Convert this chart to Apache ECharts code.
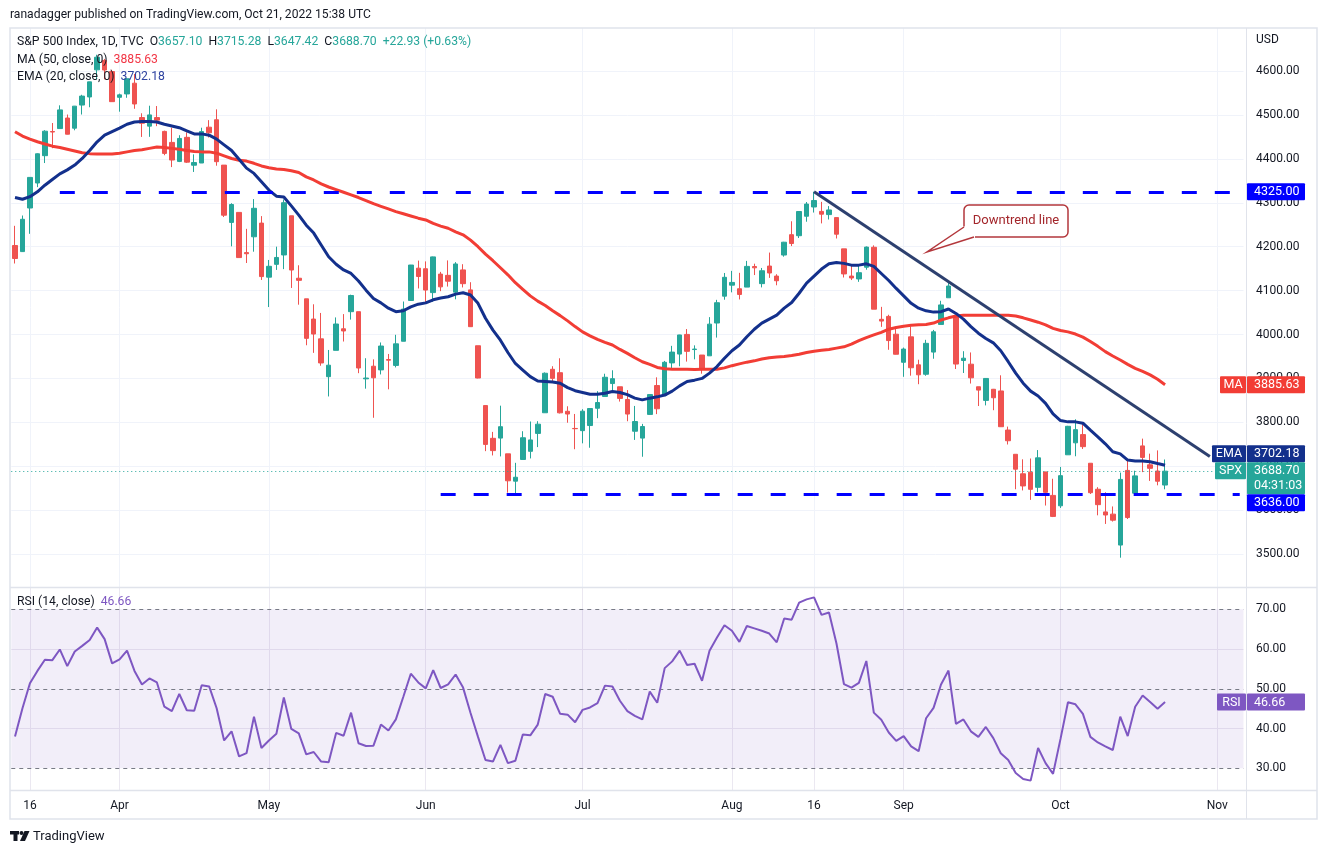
<!DOCTYPE html>
<html><head><meta charset="utf-8">
<script src="https://cdn.jsdelivr.net/npm/echarts@6/dist/echarts.min.js"></script>
<style>html,body{margin:0;padding:0;background:#fff}#c{width:1324px;height:855px}</style>
</head><body><div id="c"></div>
<script>
// ---------- DATA ----------
const monthDays = [
 ['2022-03', [14,15,16,17,18,21,22,23,24,25,28,29,30,31]],
 ['2022-04', [1,4,5,6,7,8,11,12,13,14,18,19,20,21,22,25,26,27,28,29]],
 ['2022-05', [2,3,4,5,6,9,10,11,12,13,16,17,18,19,20,23,24,25,26,27,31]],
 ['2022-06', [1,2,3,6,7,8,9,10,13,14,15,16,17,21,22,23,24,27,28,29,30]],
 ['2022-07', [1,5,6,7,8,11,12,13,14,15,18,19,20,21,22,25,26,27,28,29]],
 ['2022-08', [1,2,3,4,5,8,9,10,11,12,15,16,17,18,19,22,23,24,25,26,29,30,31]],
 ['2022-09', [1,2,6,7,8,9,12,13,14,15,16,19,20,21,22,23,26,27,28,29,30]],
 ['2022-10', [3,4,5,6,7,10,11,12,13,14,17,18,19,20,21,24,25,26,27,28,31]],
 ['2022-11', [1,2,3,4]]
];
const dates = [];
monthDays.forEach(([m, ds]) => ds.forEach(d => dates.push(m + '-' + String(d).padStart(2, '0'))));

const opens = [4202.75,4188.82,4288.14,4345.11,4407.34,4462.40,4469.10,4493.10,4469.98,4522.66,4541.09,4602.86,4624.20,4599.02,
4540.32,4547.97,4572.45,4494.17,4474.65,4494.15,4462.64,4437.59,4394.30,4449.12,4385.63,4390.63,4472.26,4489.17,4385.83,4255.34,4278.14,4186.52,4222.58,4253.75,
4130.61,4159.78,4181.18,4270.43,4128.17,4081.27,4035.18,3990.08,3903.95,3963.90,4013.02,4052.00,4051.98,3899.00,3927.76,3919.42,3942.94,3929.59,3984.60,4077.43,4151.09,
4149.78,4095.41,4137.57,4134.72,4096.47,4147.12,4101.65,3974.39,3838.15,3763.52,3764.05,3728.18,3665.90,3715.31,3733.89,3774.71,3821.75,3920.76,3913.00,3825.09,3785.99,
3781.00,3792.61,3831.98,3858.85,3888.26,3880.94,3851.95,3779.67,3763.99,3818.00,3883.79,3860.73,3935.32,3955.47,4000.20,3965.72,3953.22,3951.43,4026.13,4087.33,
4112.38,4104.21,4107.96,4154.85,4115.87,4155.93,4133.11,4181.02,4227.40,4225.02,4269.37,4290.46,4280.40,4273.13,4266.31,4195.08,4133.09,4126.55,4153.26,4198.74,4034.58,4041.25,4000.67,
3936.73,3994.66,3930.89,3909.43,3959.94,4022.94,4083.67,4042.00,3940.73,3932.41,3880.95,3849.91,3875.23,3871.40,3782.36,3727.14,3682.72,3686.44,3651.94,3687.01,3633.48,
3609.78,3726.00,3753.25,3771.97,3706.74,3647.51,3595.86,3590.83,3520.37,3690.41,3638.65,3746.26,3703.11,3689.05,3657.10];
const highs = [4247.57,4271.05,4357.86,4412.67,4465.40,4481.75,4522.00,4501.07,4520.58,4546.03,4575.65,4637.30,4627.77,4603.07,
4548.70,4583.50,4593.45,4503.94,4521.16,4520.41,4464.35,4471.00,4453.92,4460.46,4410.31,4471.03,4488.29,4512.94,4385.83,4299.02,4278.14,4240.71,4308.45,4269.68,
4169.81,4200.10,4307.66,4270.43,4157.69,4081.27,4068.82,4049.09,3964.80,4038.88,4046.46,4090.72,4051.98,3945.96,3943.42,3981.88,3955.68,3999.33,4075.14,4158.49,4168.34,
4166.54,4177.51,4142.67,4168.78,4164.86,4160.14,4119.10,3974.39,3838.15,3778.18,3837.86,3728.18,3707.71,3779.65,3801.79,3802.58,3913.65,3927.72,3945.86,3836.50,3818.99,
3829.82,3832.19,3870.91,3910.63,3918.50,3880.94,3873.41,3837.25,3796.41,3863.62,3902.44,3939.81,3974.13,3999.29,4012.44,3975.30,3953.22,4039.56,4078.95,4140.15,
4144.95,4140.47,4167.66,4161.29,4151.58,4186.62,4137.30,4211.03,4257.91,4280.47,4301.79,4325.28,4302.18,4292.53,4266.31,4195.08,4159.77,4156.56,4200.54,4203.04,4062.99,4044.98,4015.37,
3970.23,4018.43,3942.55,3987.89,4010.50,4076.81,4119.28,4042.00,3961.94,3959.14,3880.95,3900.45,3876.01,3907.07,3790.20,3727.14,3715.67,3717.53,3736.74,3687.01,3671.44,
3698.35,3791.92,3806.91,3797.93,3706.74,3652.17,3640.66,3608.34,3685.41,3712.00,3689.73,3762.79,3728.58,3736.00,3715.28];
const lows = [4161.72,4187.90,4229.34,4335.65,4390.57,4424.30,4469.10,4455.81,4465.17,4501.07,4517.69,4581.18,4581.32,4530.41,
4507.57,4539.21,4514.17,4450.04,4450.30,4474.60,4408.38,4381.34,4392.70,4390.77,4370.30,4390.63,4448.76,4384.47,4267.62,4200.82,4175.04,4162.90,4188.63,4124.28,
4062.51,4147.08,4148.91,4106.01,4067.91,3975.48,3958.17,3928.82,3858.87,3963.90,3983.99,4033.93,3911.91,3876.58,3810.32,3909.04,3875.13,3925.03,3984.60,4077.43,4104.88,
4073.85,4074.37,4098.67,4109.18,4080.19,4107.20,4017.17,3900.16,3734.30,3724.49,3722.30,3639.77,3636.87,3715.31,3717.69,3743.52,3821.75,3889.66,3820.14,3799.02,3738.67,
3752.10,3742.06,3809.37,3858.85,3869.34,3847.22,3802.36,3759.89,3721.56,3817.18,3818.63,3860.73,3922.03,3927.64,3938.27,3943.46,3910.74,3951.43,3992.97,4079.22,
4096.02,4079.81,4107.96,4135.42,4107.31,4128.97,4112.09,4177.26,4201.41,4219.78,4256.90,4277.77,4253.08,4261.98,4218.70,4129.86,4124.03,4119.97,4147.59,4057.66,4017.42,3965.21,3954.53,
3903.65,3906.21,3886.75,3906.03,3944.81,4022.94,4083.67,3921.35,3912.31,3888.28,3837.08,3838.50,3827.54,3789.49,3749.45,3647.47,3644.76,3623.29,3640.61,3610.40,3584.13,
3604.93,3726.00,3722.66,3739.22,3636.66,3588.10,3568.45,3573.86,3491.58,3579.68,3638.65,3686.53,3666.51,3656.44,3647.42];
const closes = [4173.11,4262.45,4357.86,4411.67,4463.12,4461.18,4511.61,4456.24,4520.16,4543.06,4575.52,4631.60,4602.45,4530.41,
4545.86,4582.64,4525.12,4481.15,4500.21,4488.28,4412.53,4397.45,4446.59,4392.59,4391.69,4462.21,4459.45,4393.66,4271.78,4296.12,4175.20,4183.96,4287.50,4131.93,
4155.38,4175.48,4300.17,4146.87,4123.34,3991.24,4001.05,3935.18,3930.08,4023.89,4008.01,4088.85,3923.68,3900.79,3901.36,3973.75,3941.48,3978.73,4057.84,4158.24,4132.15,
4101.23,4176.82,4108.54,4121.43,4160.68,4115.77,4017.82,3900.86,3749.63,3735.48,3789.99,3666.77,3674.84,3764.79,3759.89,3795.73,3911.74,3900.11,3821.55,3818.83,3785.38,
3825.33,3831.39,3845.08,3902.62,3899.38,3854.43,3818.80,3801.78,3790.38,3863.16,3830.85,3936.69,3959.90,3998.95,3961.63,3966.84,3921.05,4023.61,4072.43,4130.29,
4118.63,4091.19,4155.17,4151.94,4145.19,4140.06,4122.47,4210.24,4207.27,4280.15,4297.14,4305.20,4274.04,4283.74,4228.48,4137.99,4128.73,4140.77,4199.12,4057.66,4030.61,3986.16,3955.00,
3966.85,3924.26,3908.19,3979.87,4006.18,4067.36,4110.41,3932.69,3946.01,3901.35,3873.33,3899.89,3855.93,3789.93,3757.99,3693.23,3655.04,3647.29,3719.04,3640.47,3585.62,
3678.43,3790.93,3783.28,3744.52,3639.66,3612.39,3588.84,3577.03,3669.91,3583.07,3677.95,3719.98,3695.16,3665.78,3688.70];

const ma50 = [4462,4452,4445,4439,4434,4429,4426,4422,4418,4414,4412,4411,4411,4411,4413,4416,4419,4421,4424,4427,
4426,4424,4422,4419,4417,4416,4416,4413,4407,4401,4397,4395,4390,4384,4380,4377,4376,4373,4369,4359,4352,
4343,4336,4330,4324,4318,4312,4305,4298,4292,4286,4280,4275,4270,4265,
4261,4253,4247,4242,4234,4227,4215,4200,4183,4168,4152,4136,4118,4103,4088,4076,4066,4054,4043,4031,4018,4006,3997,3989,3982,3976,3966,3957,
3947,3938,3932,3925,3922,3921,3921,3921,3920,3921,3921,3921,3924,3929,3933,3937,3940,3944,3947,3949,3950,3952,3955,3959,3962,3964,3966,3969,3972,3978,3986,3993,3999,4005,4012,4016,4019,4021,4022,4023,4026,
4033,4038,4042,4044,4044,4044,4044,4044,4044,4044,4042,4038,4033,4028,4022,4014,4009,4006,4001,3994,3984,3973,3961,3951,3942,3932,3923,3916,3908,3898,3885.63];
const ema20 = [4312,4308,4314,4325,4340,4353,4366,4375,4386,4401,4419,4439,4454,4462,4470,4479,4484,4485,4485,4484,
4479,4475,4471,4464,4457,4457,4454,4445,4432,4419,4399,4379,4367,4348,4329,4315,4313,4293,4272,4249,4231,
4204,4177,4160,4147,4139,4122,4101,4082,4072,4060,4052,4054,4063,4069,4072,4079,4083,4086,4092,4095,4090,4071,4037,4010,3987,3959,3934,3919,3904,3894,3893,3892,3889,3879,3872,3868,3864,3864,3866,3870,3868,3863,
3855,3851,3855,3858,3862,3871,3883,3893,3896,3900,3912,3927,3946,3963,3976,3995,4012,4026,4035,4044,4060,4073,4094,4117,4133,4149,4161,4164,4162,4158,4158,4161,4155,4139,4123,4105,4088,4071,4060,4054,4051,
4052,4058,4048,4035,4018,4003,3991,3981,3963,3938,3912,3889,3871,3860,3843,3819,3804,3801,3801,3798,3782,3767,3751,3733,3728,3714,3712,3712,3710,3706,3702.18];
const rsi14 = [38.0,45.1,51.4,54.5,57.3,57.2,59.9,55.7,59.4,60.8,62.3,65.4,62.5,56.4,57.4,59.6,54.5,51.1,52.6,51.6,
45.5,44.4,48.7,44.6,44.5,50.9,50.6,45.1,37.0,39.3,33.0,33.8,43.0,35.1,37.0,38.7,47.8,39.9,38.8,33.5,34.1,31.7,31.5,38.9,38.2,44.0,36.3,35.6,35.7,41.0,39.5,42.3,48.0,53.8,51.6,
50.1,54.7,50.2,51.1,53.6,50.3,43.9,37.9,32.1,31.7,35.9,31.3,31.9,38.5,38.3,41.0,48.7,48.0,43.7,43.5,41.6,
44.7,45.3,46.4,50.8,50.6,47.0,44.4,43.2,42.3,49.3,46.5,55.2,56.9,59.6,56.0,56.3,52.0,59.6,62.9,66.0,
64.6,61.8,65.8,65.2,64.6,63.9,61.7,67.7,67.4,71.7,72.5,73.0,68.6,69.2,61.4,51.2,50.3,51.5,57.0,44.0,42.2,39.0,36.9,
38.1,35.5,34.3,42.6,45.2,51.1,54.6,41.2,42.3,39.3,37.9,40.4,37.6,33.8,32.1,28.8,27.3,26.9,35.1,31.3,28.6,
37.4,46.6,46.1,43.7,37.9,36.5,35.5,34.6,43.0,38.1,45.5,48.3,46.7,45.0,46.66];

const resistanceLevel = 4325.00, resistanceFrom = '2022-03-22';
const supportLevel = 3636.00, supportFrom = '2022-06-03';
const trendStart = ['2022-08-16', 4325];
const trendEnd = ['2022-10-31', 3722];
const lastClose = 3688.70, lastMA = 3885.63, lastEMA = 3702.18, lastRSI = 46.66;
const priceTicks = [3500,3600,3700,3800,3900,4000,4100,4200,4300,4400,4500,4600];
const rsiTicks = [30,40,50,60,70];
const xLabels = {'2022-03-16':'16','2022-04-01':'Apr','2022-05-02':'May','2022-06-01':'Jun','2022-07-01':'Jul',
  '2022-08-01':'Aug','2022-08-16':'16','2022-09-01':'Sep','2022-10-03':'Oct','2022-11-01':'Nov'};

// ---------- CHART ----------
const FONT = "Roboto, 'Noto Sans', sans-serif";
const LF = '12.2px ' + FONT;
const UP = '#26a69a', DOWN = '#ef5350';
const candles = opens.map((o, i) => [o, closes[i], lows[i], highs[i]]);
const labelDates = Object.keys(xLabels);
const chart = echarts.init(document.getElementById('c'), null, {renderer: 'canvas'});

const gridL = 11.27, gridW = 1232.2;
const option = {
  animation: false,
  backgroundColor: '#ffffff',
  grid: [
    {left: gridL, top: 28, width: gridW, height: 559},
    {left: gridL, top: 588, width: gridW, height: 202}
  ],
  xAxis: [
    {type: 'category', gridIndex: 0, data: dates, boundaryGap: true,
     axisLine: {show: false}, axisTick: {show: false}, axisLabel: {show: false}, splitLine: {show: false}},
    {type: 'category', gridIndex: 1, data: dates, boundaryGap: true,
     axisLine: {show: false}, axisTick: {show: false}, splitLine: {show: false},
     axisLabel: {show: true, interval: (idx, v) => xLabels[v] !== undefined, formatter: v => xLabels[v] || '',
       color: '#131722', fontSize: 12, fontFamily: FONT, margin: 10, hideOverlap: false}}
  ],
  yAxis: [
    {type: 'value', gridIndex: 0, position: 'right', min: 3424.83, max: 4698.18, scale: true,
     axisLine: {show: false}, axisTick: {show: false, customValues: priceTicks}, splitLine: {show: false},
     axisLabel: {customValues: priceTicks, formatter: v => v.toFixed(2), color: '#131722', fontSize: 12, fontFamily: FONT, margin: 12.5}},
    {type: 'value', gridIndex: 1, position: 'right', min: 24.54, max: 75.36,
     axisLine: {show: false}, axisTick: {show: false, customValues: rsiTicks}, splitLine: {show: false},
     axisLabel: {customValues: rsiTicks, formatter: v => v.toFixed(2), color: '#131722', fontSize: 12, fontFamily: FONT, margin: 12.5}}
  ],
  series: [
    {type: 'line', name: 'grid0', xAxisIndex: 0, yAxisIndex: 0, data: [], z: 0, silent: true,
     markLine: {z: 0, silent: true, symbol: 'none', animation: false, label: {show: false},
       lineStyle: {color: '#f0f3fa', width: 1, type: 'solid'},
       data: priceTicks.map(v => ({yAxis: v})).concat(labelDates.map(d => ({xAxis: d})))}},
    {type: 'line', name: 'grid1', xAxisIndex: 1, yAxisIndex: 1, data: [], z: 0, silent: true,
     markLine: {z: 0, silent: true, symbol: 'none', animation: false, label: {show: false},
       lineStyle: {color: '#ebe8f1', width: 1, type: 'solid'},
       data: [{yAxis: 40}, {yAxis: 60}].concat(labelDates.map(d => ({xAxis: d})))}},
    {type: 'candlestick', name: 'SPX', xAxisIndex: 0, yAxisIndex: 0, data: candles, barWidth: 5, z: 2,
     itemStyle: {color: UP, color0: DOWN, borderColor: UP, borderColor0: DOWN, borderWidth: 1}},
    {type: 'line', name: 'MA', xAxisIndex: 0, yAxisIndex: 0, data: ma50, symbol: 'none', z: 3,
     lineStyle: {color: '#f23d35', width: 3}},
    {type: 'line', name: 'EMA', xAxisIndex: 0, yAxisIndex: 0, data: ema20, symbol: 'none', z: 3,
     lineStyle: {color: '#13308c', width: 3}},
    {type: 'line', name: 'levels', xAxisIndex: 0, yAxisIndex: 0, data: [], z: 4, silent: true,
     markLine: {z: 4, silent: true, symbol: 'none', animation: false, label: {show: false},
       data: [
         [{coord: [resistanceFrom, resistanceLevel], lineStyle: {color: '#0000ff', width: 3, type: [15, 18]}},
          {coord: [dates[dates.length - 1], resistanceLevel]}],
         [{coord: [supportFrom, supportLevel], lineStyle: {color: '#0000ff', width: 3, type: [15, 18]}},
          {coord: [dates[dates.length - 1], supportLevel]}],
         [{coord: trendStart, lineStyle: {color: '#2d406f', width: 3, type: 'solid'}},
          {coord: trendEnd}],
         {yAxis: lastClose, lineStyle: {color: UP, width: 1, type: [1, 3]}}
       ]}},
    {type: 'line', name: 'RSI', xAxisIndex: 1, yAxisIndex: 1, data: rsi14, symbol: 'none', z: 3,
     lineStyle: {color: '#7e57c2', width: 2},
     markArea: {z: 1, silent: true, itemStyle: {color: 'rgba(126,87,194,0.1)'}, data: [[{yAxis: 30}, {yAxis: 70}]]},
     markLine: {z: 2, silent: true, symbol: 'none', animation: false, label: {show: false},
       lineStyle: {color: '#787b86', width: 1, type: [4, 4]},
       data: [{yAxis: 70}, {yAxis: 50}, {yAxis: 30}]}}
  ]
};
chart.setOption(option);

// ---------- ANNOTATIONS (positions from the chart's own scales) ----------
const py = v => chart.convertToPixel({yAxisIndex: 0}, v);
const ry = v => chart.convertToPixel({yAxisIndex: 1}, v);
const AX = 1247, BW = 58, BH = 17;
function box(x, y, w, h, fill, text, align) {
  return {type: 'group', z: 120, children: [
    {type: 'rect', z: 120, shape: {x: x, y: y, width: w, height: h, r: 1}, style: {fill: fill}},
    {type: 'text', z: 121, style: {text: text, x: align === 'center' ? x + w / 2 : x + 7, y: y + h / 2 + 0.5,
      align: align || 'left', verticalAlign: 'middle', fill: '#ffffff', font: '12.5px ' + FONT}}
  ]};
}
const yRes = py(resistanceLevel), yMA = py(lastMA), yClose = py(lastClose), ySup = py(supportLevel);
const spxTop = yClose - 9;
const emaTop = Math.min(py(lastEMA) - BH / 2, spxTop - BH);
const supTop = Math.max(ySup - BH / 2, spxTop + 32);
const yR = ry(lastRSI);

const graphics = [
  // frame and separators
  {type: 'rect', z: 100, shape: {x: 10, y: 28, width: 1307, height: 791}, style: {fill: 'none', stroke: '#e0e3eb', lineWidth: 1.5}},
  {type: 'line', z: 100, shape: {x1: 1246.5, y1: 28, x2: 1246.5, y2: 819}, style: {stroke: '#e0e3eb', lineWidth: 1}},
  {type: 'line', z: 100, shape: {x1: 10, y1: 587.5, x2: 1317, y2: 587.5}, style: {stroke: '#e0e3eb', lineWidth: 1.5}},
  {type: 'line', z: 100, shape: {x1: 10, y1: 790.5, x2: 1317, y2: 790.5}, style: {stroke: '#e0e3eb', lineWidth: 1.5}},
  // header
  {type: 'text', z: 120, style: {text: 'ranadagger published on TradingView.com, Oct 21, 2022 15:38 UTC', x: 10, y: 15,
    verticalAlign: 'middle', fill: '#131722', font: '12.1px ' + FONT}},
  {type: 'text', z: 120, style: {x: 17, y: 42, verticalAlign: 'middle', font: LF,
    text: '{t|S&P 500 Index, 1D, TVC}  {k|O}{v|3657.10}  {k|H}{v|3715.28}  {k|L}{v|3647.42}  {k|C}{v|3688.70}  {v|+22.93 (+0.63%)}',
    rich: {t: {fill: '#131722', font: LF}, k: {fill: '#131722', font: LF}, v: {fill: UP, font: LF}}}},
  {type: 'text', z: 120, style: {x: 17, y: 59.5, verticalAlign: 'middle', font: LF,
    text: '{t|MA (50, close, 0)}  {v|3885.63}', rich: {t: {fill: '#131722', font: LF}, v: {fill: '#f23645', font: LF}}}},
  {type: 'text', z: 120, style: {x: 17, y: 76.5, verticalAlign: 'middle', font: LF,
    text: '{t|EMA (20, close, 0)}  {v|3702.18}', rich: {t: {fill: '#131722', font: LF}, v: {fill: '#2e43a0', font: LF}}}},
  {type: 'text', z: 120, style: {x: 17, y: 602, verticalAlign: 'middle', font: LF,
    text: '{t|RSI (14, close)}  {v|46.66}', rich: {t: {fill: '#131722', font: LF}, v: {fill: '#7e57c2', font: LF}}}},
  {type: 'text', z: 120, style: {text: 'USD', x: 1256, y: 40, verticalAlign: 'middle', fill: '#131722', font: '12px ' + FONT}},
  // callout
  {type: 'rect', z: 110, shape: {x: 964, y: 205, width: 104, height: 32, r: 5}, style: {fill: '#ffffff', stroke: '#b3373c', lineWidth: 1.5}},
  {type: 'polygon', z: 111, shape: {points: [[963.2, 226.5], [927, 252], [975, 238], [975, 235.6], [965.8, 226.5]]}, style: {fill: '#ffffff'}},
  {type: 'polyline', z: 112, shape: {points: [[964, 227], [927, 252], [974, 237]]}, style: {fill: 'none', stroke: '#b3373c', lineWidth: 1.5}},
  {type: 'text', z: 113, style: {text: 'Downtrend line', x: 1016, y: 221, align: 'center', verticalAlign: 'middle', fill: '#a3262b', font: '13px ' + FONT}},
  // axis tags
  box(AX, yRes - BH / 2, BW, BH, '#0000ff', resistanceLevel.toFixed(2)),
  box(1220, yMA - BH / 2, 26, BH, '#f23d35', 'MA', 'center'),
  box(AX, yMA - BH / 2, BW, BH, '#f23d35', lastMA.toFixed(2)),
  box(1212, emaTop, 34, BH, '#13308c', 'EMA', 'center'),
  box(AX, emaTop, BW, BH, '#13308c', lastEMA.toFixed(2)),
  box(1215, spxTop, 31, BH, UP, 'SPX', 'center'),
  {type: 'group', z: 120, children: [
    {type: 'rect', z: 120, shape: {x: AX, y: spxTop, width: BW, height: 32, r: 1}, style: {fill: UP}},
    {type: 'text', z: 121, style: {text: lastClose.toFixed(2), x: AX + 7, y: spxTop + 9, verticalAlign: 'middle', fill: '#fff', font: '12.5px ' + FONT}},
    {type: 'text', z: 121, style: {text: '04:31:03', x: AX + 7, y: spxTop + 24, verticalAlign: 'middle', fill: '#fff', font: '12.5px ' + FONT}}
  ]},
  box(AX, supTop, BW, BH, '#0000ff', supportLevel.toFixed(2)),
  box(1217, yR - BH / 2, 29, BH, '#7e57c2', 'RSI', 'center'),
  box(AX, yR - BH / 2, BW, BH, '#7e57c2', lastRSI.toFixed(2)),
  // TradingView logo
  {type: 'group', z: 120, children: [
    {type: 'rect', shape: {x: 10, y: 831, width: 9, height: 3.5}, style: {fill: '#131722'}},
    {type: 'rect', shape: {x: 13.5, y: 831, width: 4, height: 10}, style: {fill: '#131722'}},
    {type: 'circle', shape: {cx: 21.5, cy: 833, r: 2}, style: {fill: '#131722'}},
    {type: 'polygon', shape: {points: [[24.5, 831], [29.5, 831], [25, 841], [20, 841]]}, style: {fill: '#131722'}},
    {type: 'text', style: {text: 'TradingView', x: 33, y: 836.5, verticalAlign: 'middle', fill: '#131722', font: '13px ' + FONT}}
  ]}
];
chart.setOption({graphic: graphics});
</script>
</body></html>
